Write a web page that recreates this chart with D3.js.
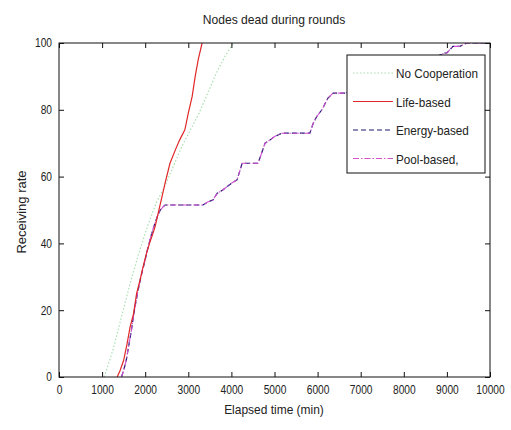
<!DOCTYPE html>
<html><head><meta charset="utf-8">
<script src="https://cdn.jsdelivr.net/npm/d3@7"></script>
<style>
body{margin:0;background:#fff;}
text{font-family:"Liberation Sans",Arial,sans-serif;fill:#222;}
</style></head><body>
<svg id="c" width="511" height="430"></svg>
<script>
const xTicks = [0,1000,2000,3000,4000,5000,6000,7000,8000,9000,10000];
const yTicks = [0,20,40,60,80,100];
const seriesNames = ["No Cooperation","Life-based","Energy-based","Pool-based,"];

const noCoopX = [1050,1250,1450,1650,1850,2050,2250,2450,2650,2850,3050,3250,3450,3650,3850,4050];
const noCoopY = [0,8,18,28,37,45,52,57,63,69,74,79,85,91,96,100];

const lifeX = [1350,1420,1500,1580,1650,1730,1800,1880,1950,2030,2100,2180,2230,2300,2390,2460,2575,2700,2800,2920,3000,3090,3160,3230,3320];
const lifeY = [0,2,5,10,15,19,25,29,33,37,40,43,45,49,54,58,64,68,71,74,79,84,90,95,100];

const energyX = [1450,1500,1560,1600,1680,1750,1820,1900,1980,2050,2130,2200,2280,2350,2420,2460,2700,3000,3340,3450,3570,3670,3800,3900,4000,4130,4250,4400,4620,4700,4780,4900,5000,5170,5500,5820,5900,5980,6100,6240,6360,6650,7000,7400,7800,8200,8600,8950,9000,9140,9300,9460,10000];
const energyY = [0,2,5,8,14,20,25,30,34,38,42,45,48,50,51,51.5,51.5,51.5,51.5,52.4,53,55,56,57,58,59,64,64,64,67,70,71,72,73,73,73,76,78,80,83.5,85,85,87,89,91,93,95,97,97,99,99,100,100];
const poolX = energyX.slice();
const poolY = energyY.slice();

const svg = d3.select("#c");
const m = {l:59, r:490, t:43, b:377};
const x = d3.scaleLinear().domain([0,10000]).range([m.l,m.r]);
const y = d3.scaleLinear().domain([0,100]).range([m.b,m.t]);

svg.append("defs").append("clipPath").attr("id","pc")
  .append("rect").attr("x",m.l).attr("y",m.t).attr("width",m.r-m.l).attr("height",m.b-m.t);

const lineLin = d3.line().x(d=>x(d[0])).y(d=>y(d[1]));
const zip = (a,b)=>a.map((v,i)=>[v,b[i]]);

const g = svg.append("g").attr("clip-path","url(#pc)");
g.append("path").attr("d",lineLin(zip(noCoopX,noCoopY))).attr("fill","none")
  .attr("stroke","#a8e0b0").attr("stroke-width",1.2).attr("stroke-dasharray","1.5,2");
g.append("path").attr("d",lineLin(zip(energyX,energyY))).attr("fill","none")
  .attr("stroke","#1a1a70").attr("stroke-width",1.2).attr("stroke-dasharray","5,3");
g.append("path").attr("d",lineLin(zip(poolX,poolY))).attr("fill","none")
  .attr("stroke","#d050d0").attr("stroke-width",1.1).attr("stroke-dasharray","6,2,1.5,2");
g.append("path").attr("d",lineLin(zip(lifeX,lifeY))).attr("fill","none")
  .attr("stroke","#e02828").attr("stroke-width",1.2);

function squeeze(sel, f){
  sel.each(function(){
    const L = this.getComputedTextLength();
    if (L>0) d3.select(this).attr("textLength",L*f).attr("lengthAdjust","spacingAndGlyphs");
  });
}

const ax = svg.append("g");
ax.append("rect").attr("x",m.l).attr("y",m.t).attr("width",m.r-m.l).attr("height",m.b-m.t)
  .attr("fill","none").attr("stroke","#111").attr("stroke-width",1);
const xb = d3.axisBottom(x).tickValues(xTicks).tickSize(-5).tickPadding(8).tickFormat(d3.format("d"));
const xt = d3.axisTop(x).tickValues(xTicks).tickSize(-5).tickFormat("");
const yl = d3.axisLeft(y).tickValues(yTicks).tickSize(-5).tickPadding(7);
const yr = d3.axisRight(y).tickValues(yTicks).tickSize(-5).tickFormat("");
[ [xb,`translate(0,${m.b})`],[xt,`translate(0,${m.t})`],[yl,`translate(${m.l},0)`],[yr,`translate(${m.r},0)`] ]
 .forEach(([a,t])=>{
   const gg = ax.append("g").attr("transform",t).call(a);
   gg.select(".domain").remove();
   gg.selectAll("line").attr("stroke","#111");
   gg.selectAll("text").style("font-size","12px").attr("fill","#222").attr("font-family",null);
   squeeze(gg.selectAll("text"),0.85);
 });

squeeze(svg.append("text").attr("x",274).attr("y",24).attr("text-anchor","middle").style("font-size","13px").text("Nodes dead during rounds"),0.93);
squeeze(svg.append("text").attr("x",274).attr("y",414).attr("text-anchor","middle").style("font-size","13px").text("Elapsed time (min)"),0.92);
svg.append("text").attr("transform","translate(26,212) rotate(-90)").attr("text-anchor","middle").style("font-size","13px").text("Receiving rate");

const lg = svg.append("g");
lg.append("rect").attr("x",347).attr("y",55).attr("width",138).attr("height",118)
  .attr("fill","#fff").attr("stroke","#111").attr("stroke-width",1);
const styles = [
  {c:"#a8e0b0",d:"1.5,2",w:1.2},
  {c:"#e02828",d:null,w:1.2},
  {c:"#1a1a70",d:"5,3",w:1.2},
  {c:"#d050d0",d:"6,2,1.5,2",w:1.1}
];
seriesNames.forEach((n,i)=>{
  const yy = 73 + i*28.5;
  lg.append("line").attr("x1",353).attr("x2",393).attr("y1",yy).attr("y2",yy)
    .attr("stroke",styles[i].c).attr("stroke-width",styles[i].w).attr("stroke-dasharray",styles[i].d);
  squeeze(lg.append("text").attr("x",396).attr("y",yy+5).style("font-size","13px").text(n),0.9);
});
</script>
</body></html>
